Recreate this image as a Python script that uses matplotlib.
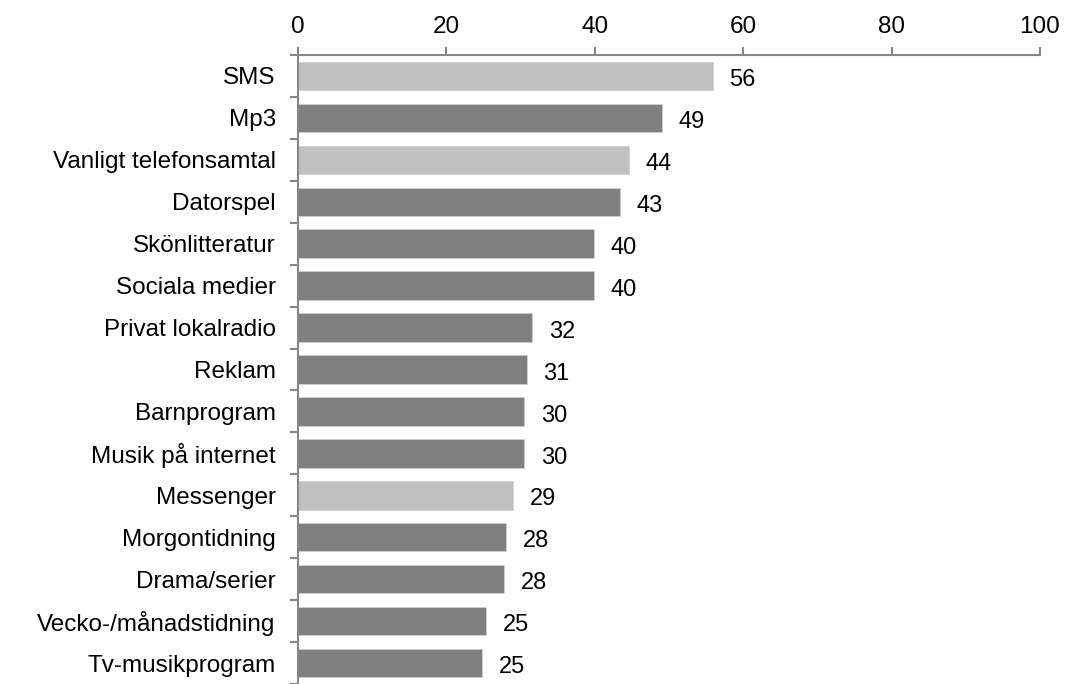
import matplotlib
matplotlib.use("Agg")
import matplotlib.pyplot as plt
import numpy as np

plt.rcParams['font.family'] = ['Liberation Sans', 'DejaVu Sans']

categories = ['SMS', 'Mp3', 'Vanligt telefonsamtal', 'Datorspel', 'Skönlitteratur',
              'Sociala medier', 'Privat lokalradio', 'Reklam', 'Barnprogram',
              'Musik på internet', 'Messenger', 'Morgontidning', 'Drama/serier',
              'Vecko-/månadstidning', 'Tv-musikprogram']
values = [55.9, 49.1, 44.6, 43.4, 39.9, 39.9, 31.6, 30.8, 30.5, 30.5, 29.0, 28.1, 27.8, 25.3, 24.8]
labels = ['56', '49', '44', '43', '40', '40', '32', '31', '30', '30', '29', '28', '28', '25', '25']
highlight = ['SMS', 'Vanligt telefonsamtal', 'Messenger']

light = '#c0c0c0'
dark = '#808080'
axis_col = '#868686'

fig = plt.figure(figsize=(10.65, 6.84), dpi=100)
ax = fig.add_axes([0.2798, 0.0, 0.6967, 0.9196])

y = np.arange(len(categories))
colors = [light if c in highlight else dark for c in categories]
ax.barh(y, values, height=0.68, color=colors, edgecolor='#d0d0d0', linewidth=0.6)

for yi, v, lab in zip(y, values, labels):
    ax.annotate(lab, (v, yi), xytext=(12, -3), textcoords='offset points',
                va='center', ha='left', fontsize=17, color='black')

ax.set_xlim(0, 100)
ax.set_ylim(len(categories) - 0.5, -0.5)
ax.xaxis.tick_top()
ax.set_xticks([0, 20, 40, 60, 80, 100])
ax.tick_params(axis='x', direction='out', length=6, width=1.5, color=axis_col,
               labelsize=17.5, pad=6)

ax.set_yticks(y)
ax.set_yticklabels(categories)
ax.set_yticks(np.arange(-0.5, len(categories), 1.0), minor=True)
ax.tick_params(axis='y', which='major', length=0, labelsize=17.5, pad=16)
ax.tick_params(axis='y', which='minor', direction='out', length=6, width=1.5, color=axis_col)

for s in ['right', 'bottom']:
    ax.spines[s].set_visible(False)
for s in ['top', 'left']:
    ax.spines[s].set_color(axis_col)
    ax.spines[s].set_linewidth(1.5)

fig.savefig('out.png', dpi=100)
